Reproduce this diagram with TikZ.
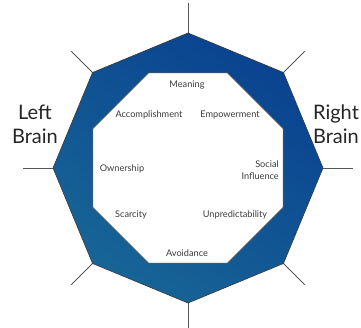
\documentclass[tikz,border=0pt]{standalone}
\usepackage{fontspec}
\setmainfont{Lato}
\usetikzlibrary{calc}
\definecolor{ringdark}{HTML}{0A4290}
\definecolor{ringlight}{HTML}{176596}
\definecolor{edgegray}{HTML}{3A3A3A}
\definecolor{labelgray}{HTML}{3C3C3C}
\tikzset{
  spoke/.style={draw=edgegray!85, line width=0.8pt},
  ring/.style={draw=edgegray, line width=0.6pt, top color=ringdark, bottom color=ringlight, shading angle=-35},
  core/.style={draw=edgegray, line width=0.5pt, fill=white},
  trait/.style={font=\fontsize{9.2}{11.5}\selectfont, text=labelgray, inner sep=0pt},
  side/.style={font=\fontsize{20}{24}\selectfont, text=black!85, inner sep=0pt, align=center}
}
\begin{document}
\begin{tikzpicture}[x=1pt,y=-1pt]
\useasboundingbox (0,0) rectangle (361,328);
\fill[white] (0,0) rectangle (361,328);
\coordinate (c) at (188,168);
% outer octagon corners, spoke ends and inner octagon corners
\foreach \i in {0,...,7}{
  \coordinate (o\i) at ($(c)+(\i*45:135)$);
  \coordinate (s\i) at ($(c)+(\i*45:165)$);
  \coordinate (n\i) at ($(c)+(22.5+\i*45:103)$);
}
% spokes
\foreach \i in {0,...,7}{
  \draw[spoke] (o\i) -- (s\i);
}
% blue ring
\draw[ring] (o0) -- (o1) -- (o2) -- (o3) -- (o4) -- (o5) -- (o6) -- (o7) -- cycle;
% white core
\draw[core] (n0) -- (n1) -- (n2) -- (n3) -- (n4) -- (n5) -- (n6) -- (n7) -- cycle;
% traits
\node[trait] (meaning) at (187,85) {Meaning};
\node[trait] (accomp) at (149,115) {Accomplishment};
\node[trait] (empower) at (230,115) {Empowerment};
\node[trait] (owner) at (122,169) {Ownership};
\node[trait, align=right, anchor=east] (social) at (279,170) {Social\\Influence};
\node[trait] (scarce) at (131,215) {Scarcity};
\node[trait] (unpred) at (235,215) {Unpredictability};
\node[trait] (avoid) at (187,253) {Avoidance};
% side captions
\node[side] (left) at (35,124) {Left\\Brain};
\node[side] (right) at (336,124) {Right\\Brain};
\end{tikzpicture}
\end{document}
